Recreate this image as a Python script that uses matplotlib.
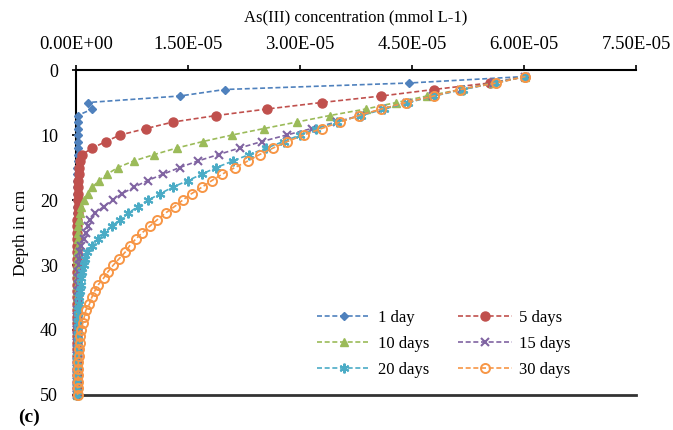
import numpy as np
import matplotlib
matplotlib.use('Agg')
import matplotlib.pyplot as plt
from matplotlib.ticker import FuncFormatter, MultipleLocator

plt.rcParams['font.family'] = 'Liberation Serif'
plt.rcParams['font.size'] = 12

depth = list(range(1, 51))

# concentrations in units of 1E-05 mmol/L, depth 1..50 cm
day1 = [6.02, 4.46, 1.99, 1.39, 0.16, 0.22, 0.02, 0.02, 0.02, 0.02,
        0.02, 0.02, 0.02, 0.02, 0.01, 0.01, 0.01, 0.01, 0.01, 0.01,
        0.01, 0.01, 0.01, 0.01, 0.01, 0.01, 0.01, 0.01, 0.01, 0.01,
        0.01, 0.01, 0.01, 0.01, 0.01, 0.01, 0.01, 0.01, 0.01, 0.01,
        0.01, 0.01, 0.01, 0.01, 0.01, 0.01, 0.01, 0.01, 0.01, 0.01]
day5 = [6.02, 5.54, 4.79, 4.09, 3.29, 2.56, 1.88, 1.30, 0.94, 0.59,
        0.40, 0.22, 0.08, 0.05, 0.04, 0.04, 0.03, 0.03, 0.02, 0.02,
        0.02, 0.02, 0.01, 0.01, 0.01, 0.01, 0.01, 0.01, 0.01, 0.01,
        0.01, 0.01, 0.01, 0.01, 0.01, 0.01, 0.01, 0.01, 0.01, 0.01,
        0.01, 0.01, 0.01, 0.01, 0.01, 0.01, 0.01, 0.01, 0.01, 0.01]
day10 = [6.02, 5.58, 5.15, 4.70, 4.29, 3.88, 3.40, 2.96, 2.52, 2.09,
         1.70, 1.35, 1.05, 0.77, 0.56, 0.42, 0.31, 0.22, 0.16, 0.11,
         0.07, 0.05, 0.04, 0.03, 0.02, 0.02, 0.02, 0.01, 0.01, 0.01,
         0.01, 0.01, 0.01, 0.01, 0.01, 0.01, 0.01, 0.01, 0.01, 0.01,
         0.01, 0.01, 0.01, 0.01, 0.01, 0.01, 0.01, 0.01, 0.01, 0.01]
day15 = [6.02, 5.60, 5.16, 4.78, 4.43, 4.10, 3.80, 3.49, 3.16, 2.82,
         2.49, 2.19, 1.91, 1.63, 1.39, 1.17, 0.96, 0.78, 0.62, 0.49,
         0.37, 0.26, 0.19, 0.16, 0.13, 0.10, 0.06, 0.05, 0.04, 0.04,
         0.03, 0.03, 0.02, 0.02, 0.02, 0.02, 0.01, 0.01, 0.01, 0.01,
         0.01, 0.01, 0.01, 0.01, 0.01, 0.01, 0.01, 0.01, 0.01, 0.01]
day20 = [6.02, 5.62, 5.18, 4.80, 4.45, 4.13, 3.82, 3.50, 3.22, 3.00,
         2.78, 2.55, 2.32, 2.10, 1.88, 1.69, 1.50, 1.30, 1.13, 0.97,
         0.83, 0.70, 0.59, 0.48, 0.38, 0.30, 0.21, 0.15, 0.12, 0.10,
         0.08, 0.07, 0.06, 0.05, 0.04, 0.04, 0.03, 0.03, 0.02, 0.02,
         0.02, 0.02, 0.02, 0.01, 0.01, 0.01, 0.01, 0.01, 0.01, 0.01]
day30 = [6.02, 5.63, 5.14, 4.79, 4.42, 4.09, 3.79, 3.54, 3.29, 3.05,
         2.83, 2.64, 2.46, 2.30, 2.13, 1.96, 1.82, 1.69, 1.55, 1.43,
         1.32, 1.20, 1.09, 0.99, 0.89, 0.80, 0.72, 0.66, 0.58, 0.50,
         0.43, 0.37, 0.30, 0.25, 0.21, 0.18, 0.13, 0.11, 0.09, 0.06,
         0.05, 0.05, 0.04, 0.04, 0.03, 0.03, 0.03, 0.02, 0.02, 0.02]

labels = ['1 day', '5 days', '10 days', '15 days', '20 days', '30 days']
colors = ['#4F81BD', '#C0504D', '#9BBB59', '#8064A2', '#4BACC6', '#F79646']
series = [day1, day5, day10, day15, day20, day30]

fig = plt.figure(figsize=(6.73, 4.30), dpi=100)
ax = fig.add_axes([0.113, 0.0814, 0.832, 0.7558])

styles = [
    dict(marker='D', ms=4, mfc=colors[0], mec=colors[0]),
    dict(marker='o', ms=6.5, mfc=colors[1], mec=colors[1]),
    dict(marker='^', ms=6, mfc=colors[2], mec=colors[2]),
    dict(marker='x', ms=5.5, mew=1.5, mec=colors[3]),
    dict(marker=(6, 2, 0), ms=7, mew=1.5, mec=colors[4]),
    dict(marker='o', ms=6.5, mfc='none', mew=1.4, mec=colors[5]),
]

lines = []
for vals, lab, col, st in zip(series, labels, colors, styles):
    ln, = ax.plot(np.array(vals) * 1e-5, depth, color=col, lw=1.2,
                  dashes=(3, 1.6), label=lab, clip_on=False, zorder=3, **st)
    lines.append(ln)

ax.set_xlim(0, 7.5e-5)
ax.set_ylim(50, 0)
ax.xaxis.set_major_locator(MultipleLocator(1.5e-5))
ax.xaxis.set_major_formatter(FuncFormatter(lambda v, p: f'{v:.2E}'))
ax.yaxis.set_major_locator(MultipleLocator(10))
ax.xaxis.tick_top()
ax.xaxis.set_label_position('top')
ax.tick_params(axis='x', direction='out', length=3.5, width=1.2, labelsize=13.5, pad=8.5)
ax.tick_params(axis='y', direction='out', length=3, width=1.2, labelsize=13, pad=10)

for s in ['top', 'left']:
    ax.spines[s].set_linewidth(1.5)
    ax.spines[s].set_color('black')
ax.spines['bottom'].set_linewidth(2)
ax.spines['bottom'].set_color('#333333')
ax.spines['right'].set_visible(False)

ax.set_xlabel('As(III) concentration (mmol L-1)', fontsize=12, labelpad=10.5)
ax.set_ylabel('Depth in cm', fontsize=12.5, labelpad=8)

order = [0, 2, 4, 1, 3, 5]
ax.legend([lines[i] for i in order], [labels[i] for i in order], ncol=2,
          frameon=False, loc='upper left',
          bbox_to_anchor=(302 / 673, 1 - 295 / 430), bbox_transform=fig.transFigure,
          handlelength=3.2, handletextpad=0.45, columnspacing=1.75,
          labelspacing=0.6, fontsize=12)

fig.text(18 / 673, 1 - 422 / 430, '(c)', fontsize=14, fontweight='bold')

fig.savefig('out.png', dpi=100)
